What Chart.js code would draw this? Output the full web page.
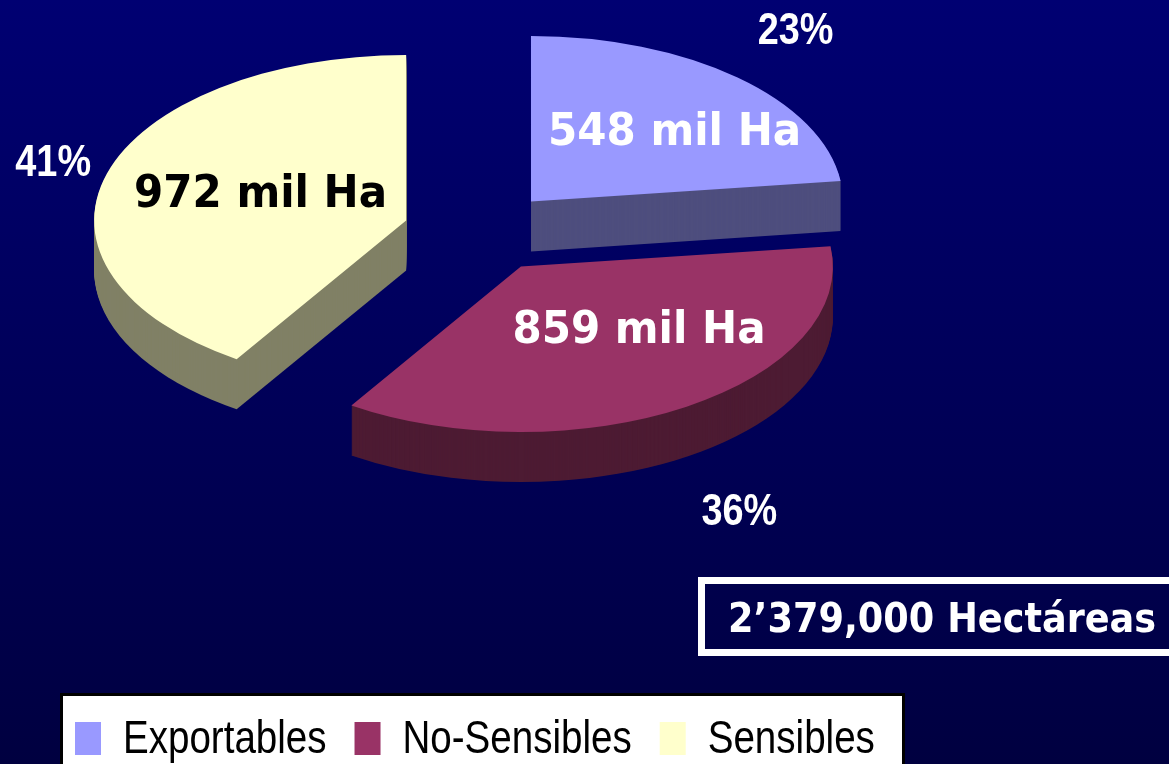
<!DOCTYPE html>
<html>
<head>
<meta charset="utf-8">
<script src="https://cdn.jsdelivr.net/npm/chart.js@4.4.1/dist/chart.umd.min.js"></script>
<style>
  html, body { margin: 0; padding: 0; background: #000058; }
  #wrap { width: 1169px; height: 764px; position: relative; }
</style>
</head>
<body>
<div id="wrap"><canvas id="grafico"></canvas></div>
<script>
// datos (miles de hectáreas)
const categorias = ['Exportables', 'No-Sensibles', 'Sensibles'];
const hectareas = [548, 859, 972];
const unidad = 'mil Ha';
const etiquetaTotal = 'Hectáreas';

const coresTopo = ['#9999FF', '#993366', '#FFFFCC'];
const coresLado = ['#4E4E7E', '#4D1B33', '#808066'];
const coresValor = ['#FFFFFF', '#FFFFFF', '#000000'];

// aspecto 3D
const inclinacao = 0.53;
const profundidade = 50;
const separacao = 77;
const centro = { x: 480, y: 232 };

// ajustes finos de las etiquetas
const ajusteValor = [[30, -4], [27, -17], [19, -4]];
const ajustePct = [[-4, -12], [3, 10], [36, 0]];

const total = hectareas.reduce((a, b) => a + b, 0);

function texto(ctx, str, x, y, font, cor, sx, align) {
  ctx.save();
  ctx.translate(x, y);
  ctx.scale(sx, 1);
  ctx.font = font;
  ctx.fillStyle = cor;
  ctx.textAlign = align || 'center';
  ctx.textBaseline = 'alphabetic';
  ctx.fillText(str, 0, 0);
  ctx.restore();
}

function centroGrafico(chart) {
  const a = chart.chartArea;
  return { x: (a.left + a.right) / 2, y: (a.top + a.bottom) / 2 };
}

// pasa de coordenadas del gráfico a pantalla (elipse inclinada)
function proyectar(chart, px, py) {
  const c = centroGrafico(chart);
  return { x: centro.x + (px - c.x), y: centro.y + (py - c.y) * inclinacao };
}

const pizza3d = {
  id: 'pizza3d',
  beforeDraw(chart) {
    const { ctx, width, height } = chart;
    const g = ctx.createLinearGradient(0, 0, 0, height);
    g.addColorStop(0, '#000072');
    g.addColorStop(1, '#000040');
    ctx.save();
    ctx.fillStyle = g;
    ctx.fillRect(0, 0, width, height);
    ctx.restore();
  },
  afterUpdate(chart) {
    // separar las porciones
    chart.getDatasetMeta(0).data.forEach(arc => {
      const mid = (arc.startAngle + arc.endAngle) / 2;
      arc.x += Math.cos(mid) * separacao;
      arc.y += Math.sin(mid) * separacao;
    });
  },
  beforeDatasetsDraw(chart) {
    const { ctx } = chart;
    const c = centroGrafico(chart);
    ctx.save();
    ctx.translate(centro.x, centro.y);
    ctx.scale(1, inclinacao);
    ctx.translate(-c.x, -c.y);
    chart.getDatasetMeta(0).data.forEach((arc, i) => {
      ctx.fillStyle = coresLado[i];
      for (let d = profundidade; d > 0; d--) {
        const dy = d / inclinacao;
        ctx.beginPath();
        ctx.moveTo(arc.x, arc.y + dy);
        ctx.arc(arc.x, arc.y + dy, arc.outerRadius, arc.startAngle, arc.endAngle);
        ctx.closePath();
        ctx.fill();
      }
    });
  },
  afterDatasetsDraw(chart) {
    const { ctx } = chart;
    ctx.restore();

    chart.getDatasetMeta(0).data.forEach((arc, i) => {
      const mid = (arc.startAngle + arc.endAngle) / 2;
      const r = arc.outerRadius;

      const pv = proyectar(chart, arc.x + Math.cos(mid) * r * 0.55, arc.y + Math.sin(mid) * r * 0.55);
      texto(ctx, hectareas[i] + ' ' + unidad,
        pv.x + ajusteValor[i][0], pv.y + ajusteValor[i][1] + 16,
        'bold 44px "DejaVu Sans"', coresValor[i], 0.955);

      const pp = proyectar(chart, arc.x + Math.cos(mid) * r * 1.3, arc.y + Math.sin(mid) * r * 1.3);
      const extra = Math.sin(mid) > 0 ? profundidade : 0;
      const pct = Math.round(hectareas[i] / total * 100) + '%';
      texto(ctx, pct,
        pp.x + ajustePct[i][0], pp.y + extra + ajustePct[i][1] + 16,
        'bold 44px "Liberation Sans", Arial, sans-serif', '#FFFFFF', 0.86);
    });
  },
  afterDraw(chart) {
    const { ctx } = chart;

    // recuadro del total
    ctx.save();
    ctx.strokeStyle = '#FFFFFF';
    ctx.lineWidth = 7;
    ctx.strokeRect(701.5, 580.5, 520, 72);
    ctx.restore();
    const totalTxt = (total * 1000).toLocaleString('en-US').replace(',', '\u2019');
    texto(ctx, totalTxt + ' ' + etiquetaTotal, 728, 632,
      'bold 41px "DejaVu Sans"', '#FFFFFF', 0.894, 'left');

    // leyenda
    ctx.save();
    ctx.fillStyle = '#FFFFFF';
    ctx.fillRect(60, 693, 845, 90);
    ctx.strokeStyle = '#000000';
    ctx.lineWidth = 3;
    ctx.strokeRect(61.5, 694.5, 842, 90);
    ctx.restore();

    const fonteLeg = '47px "Liberation Sans", Arial, sans-serif';
    const sxLeg = 0.82;
    let x = 75;
    categorias.forEach((nome, i) => {
      ctx.fillStyle = coresTopo[i];
      ctx.fillRect(x, 722, 26, 33);
      x += 26 + 22;
      texto(ctx, nome, x, 753, fonteLeg, '#000000', sxLeg, 'left');
      ctx.save();
      ctx.font = fonteLeg;
      const w = ctx.measureText(nome).width * sxLeg;
      ctx.restore();
      x += w + 28;
    });
  }
};

const ctxG = document.getElementById('grafico').getContext('2d');
new Chart(ctxG, {
  type: 'pie',
  data: {
    labels: categorias,
    datasets: [{
      data: hectareas,
      backgroundColor: coresTopo,
      borderWidth: 0,
      offset: 0
    }]
  },
  options: {
    responsive: true,
    maintainAspectRatio: false,
    animation: false,
    events: [],
    radius: 312,
    layout: { padding: 0 },
    plugins: {
      legend: { display: false },
      tooltip: { enabled: false }
    }
  },
  plugins: [pizza3d]
});
</script>
</body>
</html>
